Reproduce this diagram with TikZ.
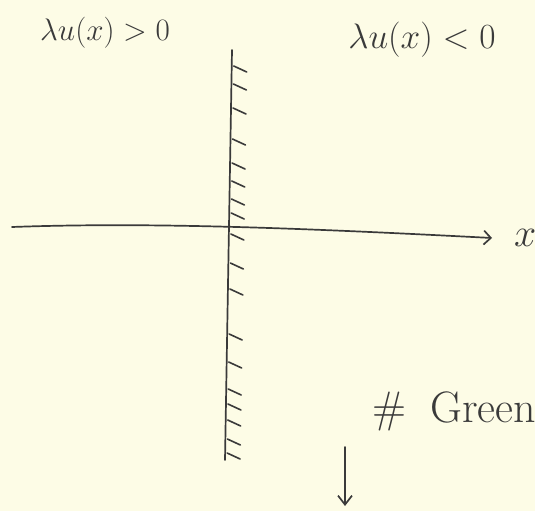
\documentclass[tikz,border=0pt]{standalone}
\usepackage{graphicx}
\usetikzlibrary{arrows.meta}
\definecolor{paper}{HTML}{FDFCE6}
\definecolor{ink}{HTML}{3A3A3A}
\begin{document}
\begin{tikzpicture}[x=1pt,y=-1pt,
  inkline/.style={draw=ink,line width=1.7pt,line cap=round,line join=round},
  hatchline/.style={draw=ink,line width=1.6pt,line cap=round},
  lbl/.style={text=ink,inner sep=0pt,font=\fontsize{24}{28}\selectfont}]
\useasboundingbox[fill=paper] (0,0) rectangle (535,511);
\clip (0,0) rectangle (535,511);
% labels
\node[lbl] (lpos) at (105,33) {\scalebox{1.25}{$\lambda u(x) > 0$}};
\node[lbl] (lneg) at (422,40) {\scalebox{1.42}{$\lambda u(x) < 0$}};
\node[lbl,anchor=west,font=\fontsize{44}{48}\selectfont] (green) at (372,411) {\#\hspace{24pt}Green};
\node[lbl,anchor=west] (xlab) at (514,238) {\scalebox{1.6}{$x$}};
% vertical boundary
\coordinate (vtop) at (232,50);
\coordinate (vbot) at (225,460);
\draw[inkline] (vtop) -- (vbot);
% hatches
\foreach \y in {66,84,108,139,163,181,199,213,234,263,289,334,362,389,404,420,439,453}{
  \pgfmathsetmacro{\xl}{232-7*(\y-50)/410}
  \draw[hatchline] (\xl+2,\y) -- (\xl+15,\y+6);
}
% x axis
\coordinate (xstart) at (12,227);
\coordinate (xend) at (492,238);
\draw[inkline,-{Straight Barb[length=7pt,width=14pt,line width=1.7pt]}]
  (xstart) .. controls (150,222) and (300,228) .. (xend);
% down arrow
\coordinate (dtop) at (345,447);
\coordinate (dbot) at (345,506);
\draw[inkline,-{Straight Barb[length=9pt,width=14pt,line width=1.7pt]}] (dtop) -- (dbot);
\end{tikzpicture}
\end{document}
